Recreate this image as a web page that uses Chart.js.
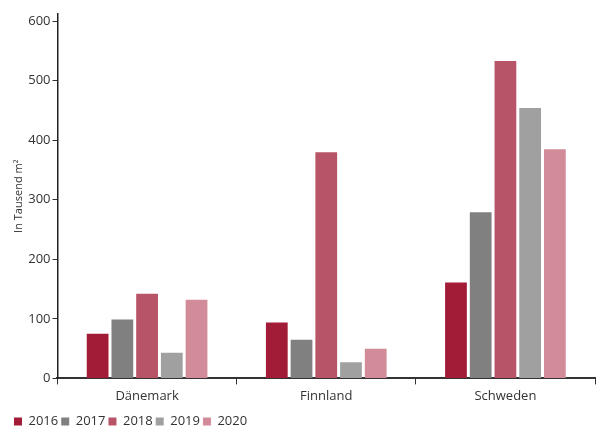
<!DOCTYPE html>
<html><head><meta charset="utf-8">
<script src="https://cdn.jsdelivr.net/npm/chart.js@4"></script>
<style>html,body{margin:0;padding:0;background:#fff}#wrap{width:601px;height:428px}</style>
</head><body><div id="wrap"><canvas id="c" width="601" height="428"></canvas></div>
<script>
const categories = ["Dänemark", "Finnland", "Schweden"];
const years = ["2016", "2017", "2018", "2019", "2020"];
const v2016 = [75, 94, 161];
const v2017 = [99, 65, 279];
const v2018 = [142, 380, 533];
const v2019 = [43, 27, 454];
const v2020 = [132, 50, 385];
const yTicks = [0, 100, 200, 300, 400, 500, 600];
const colors = ["#a31c37", "#808080", "#b85468", "#a0a0a0", "#d28b99"];
const series = [v2016, v2017, v2018, v2019, v2020];

const FONT = "'Open Sans', 'DejaVu Sans', sans-serif";
new Chart(document.getElementById('c'), {
  type: 'bar',
  data: {
    labels: categories,
    datasets: series.map((d, i) => ({
      label: years[i], data: d, backgroundColor: colors[i],
      borderWidth: 0, barPercentage: 0.88, categoryPercentage: 0.69
    }))
  },
  options: {
    responsive: false, animation: false,
    layout: { padding: { left: 11, right: 6, top: 14, bottom: -10 } },
    plugins: {
      legend: {
        position: 'bottom', align: 'start',
        labels: { boxWidth: 8, boxHeight: 8, padding: 3, color: '#333', font: { family: FONT, size: 13 } }
      },
      tooltip: { enabled: false }
    },
    scales: {
      x: {
        afterFit: (s) => { s.height += 4; },
        grid: { display: true, drawOnChartArea: false, drawTicks: true, tickLength: 6, color: '#333', offset: true },
        border: { color: '#333', width: 2 },
        ticks: { color: '#333', font: { family: FONT, size: 13 }, padding: 4 }
      },
      y: {
        min: 0, max: 612,
        afterBuildTicks: (s) => { s.ticks = yTicks.map(v => ({ value: v })); },
        grid: { display: true, drawOnChartArea: false, drawTicks: true, tickLength: 5, color: '#333' },
        border: { color: '#222', width: 1.5 },
        ticks: { color: '#333', font: { family: FONT, size: 13 }, padding: 2 },
        title: { display: true, text: 'In Tausend m²', color: '#333', font: { family: FONT, size: 11 }, padding: 1 }
      }
    }
  }
});
</script></body></html>
